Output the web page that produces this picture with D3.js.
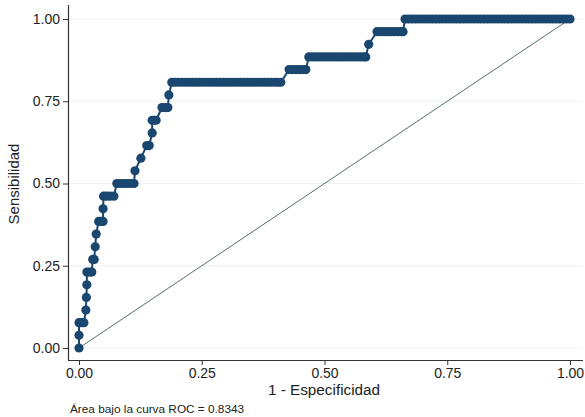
<!DOCTYPE html>
<html><head><meta charset="utf-8">
<script src="https://cdn.jsdelivr.net/npm/d3@7"></script>
<style>body{margin:0;background:#fff}svg{display:block}text{font-family:"Liberation Sans",Arial,sans-serif}</style>
</head><body>
<svg id="c" width="585" height="417"></svg>
<script>
// 1 - specificity of each ROC point
const fpr = [0,0,0,0.005,0.01,0.014,0.015,0.016,0.016,0.021,0.026,0.028,0.031,0.033,0.035,0.04,0.045,0.049,0.049,
  0.05,0.056,0.063,0.071,0.077,0.084,0.091,0.098,0.105,0.112,0.114,0.126,0.138,0.143,0.149,0.149,0.153,0.157,
  0.169,0.175,0.181,0.183,
  0.189,0.196,0.203,0.21,0.217,0.224,0.231,0.238,0.245,0.252,0.259,0.266,0.273,0.28,0.287,0.294,0.301,0.308,
  0.315,0.322,0.329,0.336,0.343,0.35,0.357,0.364,0.371,0.378,0.385,0.392,0.399,0.405,0.411,
  0.428,0.435,0.442,0.449,0.456,0.462,
  0.468,0.475,0.482,0.489,0.496,0.503,0.51,0.517,0.524,0.531,0.538,0.545,0.552,0.559,0.566,0.573,0.58,0.584,
  0.59,
  0.607,0.614,0.621,0.628,0.635,0.642,0.649,0.656,0.66,
  0.664,0.671,0.678,0.685,0.692,0.699,0.706,0.713,0.72,0.727,0.734,0.741,0.748,0.755,0.762,0.769,0.776,0.783,
  0.79,0.797,0.804,0.811,0.818,0.825,0.832,0.839,0.846,0.853,0.86,0.867,0.874,0.881,0.888,0.895,0.902,0.909,
  0.916,0.923,0.93,0.937,0.944,0.951,0.958,0.965,0.972,0.979,0.986,0.993,1];
// true positives (out of 26) for each ROC point
const tp = [0,1,2,2,2,3,4,5,6,6,6,7,7,8,9,10,10,10,11,
  12,12,12,12,13,13,13,13,13,13,14,15,16,16,17,18,18,18,
  19,19,19,20,
  21,21,21,21,21,21,21,21,21,21,21,21,21,21,21,21,21,21,21,21,21,21,21,21,21,21,21,21,21,21,21,21,21,
  22,22,22,22,22,22,
  23,23,23,23,23,23,23,23,23,23,23,23,23,23,23,23,23,23,
  24,
  25,25,25,25,25,25,25,25,25,
  26,26,26,26,26,26,26,26,26,26,26,26,26,26,26,26,26,26,26,26,26,26,26,26,26,26,26,26,26,26,26,26,26,26,26,26,
  26,26,26,26,26,26,26,26,26,26,26,26,26];
const nPos = 26;
const ticks = [0, 0.25, 0.5, 0.75, 1];
const tickLabels = ["0.00", "0.25", "0.50", "0.75", "1.00"];
const xTitle = "1 - Especificidad";
const yTitle = "Sensibilidad";
const note = "Área bajo la curva ROC = 0.8343";

const pts = fpr.map((f, i) => ({x: f, y: tp[i] / nPos}));
const svg = d3.select("#c");
const x = d3.scaleLinear().domain([0, 1]).range([79, 570]);
const y = d3.scaleLinear().domain([0, 1]).range([348, 19]);
const navy = "#1a476f";

// gridlines
svg.append("g").selectAll("line").data(ticks).join("line")
  .attr("x1", 68).attr("x2", 583).attr("y1", d => y(d)).attr("y2", d => y(d))
  .attr("stroke", "#eef2f3").attr("stroke-width", 1);

// axes
const xAxis = d3.axisBottom(x).tickValues(ticks).tickFormat((d, i) => tickLabels[i]).tickSize(5).tickPadding(3);
const gx = svg.append("g").attr("transform", "translate(0,360)").call(xAxis);
gx.select(".domain").attr("d", "M68,0.5H583");
const yAxis = d3.axisLeft(y).tickValues(ticks).tickFormat((d, i) => tickLabels[i]).tickSize(5).tickPadding(3);
const gy = svg.append("g").attr("transform", "translate(68,0)").call(yAxis);
gy.select(".domain").attr("d", "M0.5,5V360");
svg.selectAll(".domain").attr("stroke", "#333").attr("stroke-width", 1.2);
svg.selectAll(".tick line").attr("stroke", "#333");
svg.selectAll(".tick text").attr("font-size", 14).attr("fill", "#222").attr("font-family", "Liberation Sans, Arial, sans-serif");

// reference diagonal
svg.append("line").attr("x1", x(0)).attr("y1", y(0)).attr("x2", x(1)).attr("y2", y(1))
  .attr("stroke", "#56705f").attr("stroke-width", 1);

// ROC curve
svg.append("path").datum(pts)
  .attr("d", d3.line().x(d => x(d.x)).y(d => y(d.y)))
  .attr("fill", "none").attr("stroke", navy).attr("stroke-width", 2);
svg.append("g").selectAll("circle").data(pts).join("circle")
  .attr("cx", d => x(d.x)).attr("cy", d => y(d.y)).attr("r", 4.6).attr("fill", navy);

// titles
svg.append("text").attr("x", 324).attr("y", 395).attr("text-anchor", "middle")
  .attr("font-size", 15.3).attr("fill", "#222").text(xTitle);
svg.append("text").attr("transform", "translate(19,184) rotate(-90)").attr("text-anchor", "middle")
  .attr("font-size", 15).attr("fill", "#222").text(yTitle);
svg.append("text").attr("x", 70).attr("y", 413).attr("font-size", 11.8).attr("fill", "#222").text(note);
</script>
</body></html>
